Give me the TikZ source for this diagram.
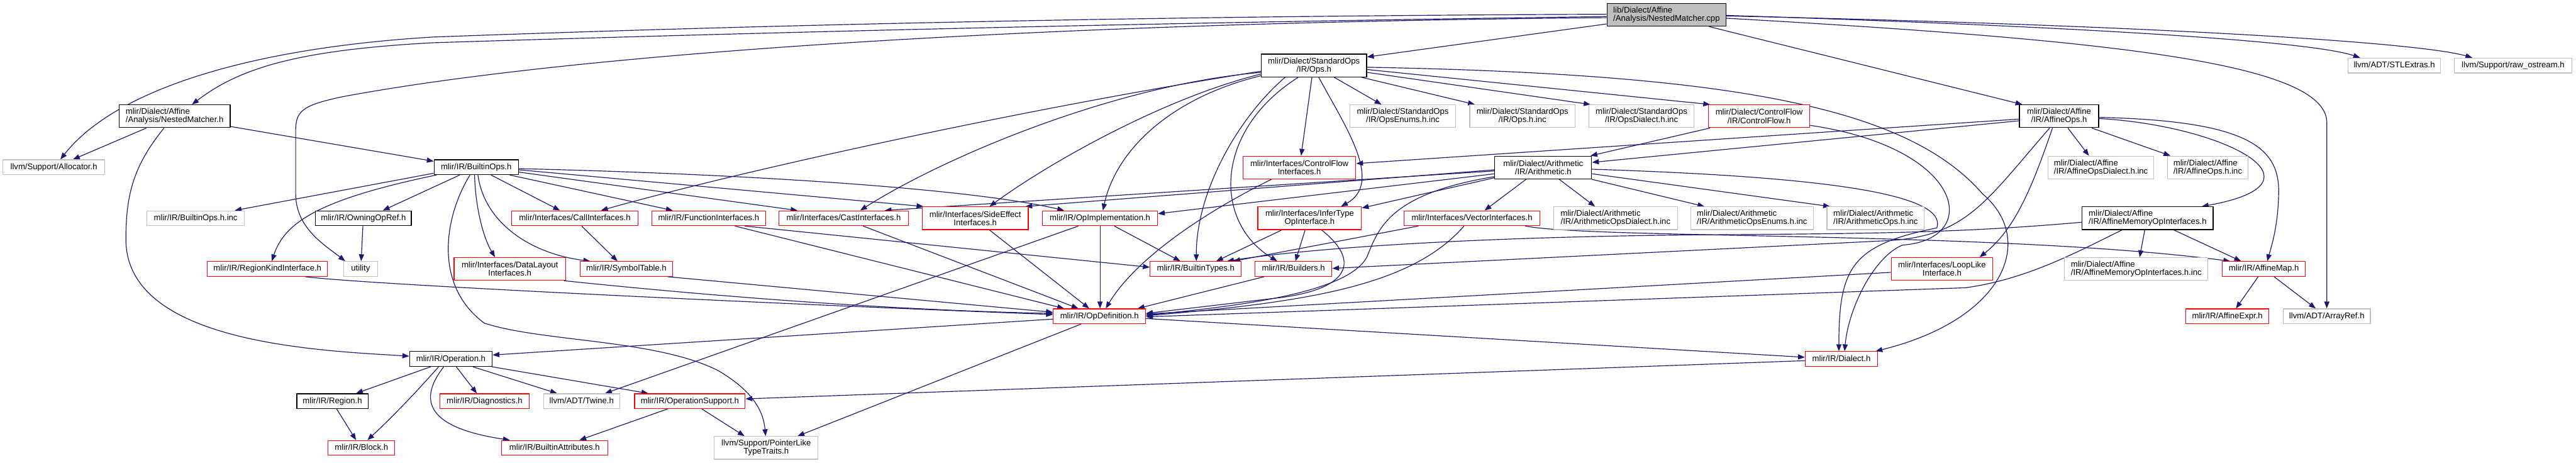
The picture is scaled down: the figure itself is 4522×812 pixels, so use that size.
\documentclass[tikz,border=0pt]{standalone}
\usepackage{fontspec}
\setmainfont{Liberation Sans}
\usetikzlibrary{arrows.meta}
\definecolor{edgecol}{HTML}{191970}
\definecolor{redb}{HTML}{FF0000}
\definecolor{grayb}{HTML}{BFBFBF}
\definecolor{mainfill}{HTML}{BFBFBF}
\pgfdeclarelayer{bg}
\pgfsetlayers{bg,main}
\newcommand\TwoL[2]{\setbox0=\hbox{#1}\setbox2=\hbox{#2}%
  \dimen0=\wd0 \ifdim\wd2>\dimen0 \dimen0=\wd2 \fi
  \vbox{\hbox to\dimen0{\box0\hfil}\hbox to\dimen0{\hfil\box2\hfil}}}
\tikzset{
  nb/.style={draw, rectangle, inner sep=0pt, line width=1.3pt, fill=white,
             font=\fontsize{14.5pt}{14.5pt}\selectfont},
  one/.style={minimum height=26pt, text height=10.5pt, text depth=3pt},
  tall/.style={minimum height=40pt},
  blk/.style={nb, draw=black},
  redn/.style={nb, draw=redb},
  grayn/.style={nb, draw=grayb},
  mainn/.style={nb, draw=black, fill=mainfill},
  conn/.style={draw=edgecol, line width=1.3pt, -{Triangle[length=12pt,width=9pt]}}
}
\begin{document}
\begin{tikzpicture}[x=1pt,y=-1pt]
\begin{pgfonlayer}{bg}
\fill[white] (0,0) rectangle (4522,812);
\end{pgfonlayer}
\useasboundingbox (0,0) rectangle (4522,812);
% nodes
\node[mainn,tall,minimum width=209pt] (main) at (2925.5,26) {\TwoL{lib/Dialect/Affine}{/Analysis/NestedMatcher.cpp}};
\node[blk,tall,minimum width=195pt] (nmh) at (306.5,204) {\TwoL{mlir/Dialect/Affine}{/Analysis/NestedMatcher.h}};
\node[grayn,one,minimum width=179pt] (alloc) at (94.5,293.5) {llvm/Support/Allocator.h};
\node[blk,one,minimum width=148pt] (bops) at (836,293.5) {mlir/IR/BuiltinOps.h};
\node[grayn,one,minimum width=171pt] (bopsinc) at (343.5,383) {mlir/IR/BuiltinOps.h.inc};
\node[blk,one,minimum width=168pt] (owning) at (638,383) {mlir/IR/OwningOpRef.h};
\node[redn,one,minimum width=211pt] (regionkind) at (469.5,472) {mlir/IR/RegionKindInterface.h};
\node[grayn,one,minimum width=60pt] (utility) at (633,472) {utility};
\node[redn,one,minimum width=222pt] (calli) at (1009,383) {mlir/Interfaces/CallInterfaces.h};
\node[redn,one,minimum width=200pt] (funci) at (1244,383) {mlir/IR/FunctionInterfaces.h};
\node[redn,one,minimum width=228pt] (casti) at (1481,383) {mlir/Interfaces/CastInterfaces.h};
\node[redn,tall,minimum width=196pt] (datalayout) at (895,472) {\TwoL{mlir/Interfaces/DataLayout}{Interfaces.h}};
\node[redn,one,minimum width=163pt] (symtab) at (1099.5,472) {mlir/IR/SymbolTable.h};
\node[blk,one,minimum width=145pt] (operation) at (791.5,630) {mlir/IR/Operation.h};
\node[blk,one,minimum width=125pt] (region) at (583.5,704) {mlir/IR/Region.h};
\node[redn,one,minimum width=117pt] (block) at (634.5,786) {mlir/IR/Block.h};
\node[redn,one,minimum width=157pt] (diag) at (850.5,704) {mlir/IR/Diagnostics.h};
\node[grayn,one,minimum width=134pt] (twine) at (1021,704) {llvm/ADT/Twine.h};
\node[redn,one,minimum width=194pt] (opsupport) at (1211,704) {mlir/IR/OperationSupport.h};
\node[redn,one,minimum width=187pt] (battr) at (973.5,786) {mlir/IR/BuiltinAttributes.h};
\node[grayn,tall,minimum width=182pt] (ptrlike) at (1345,786) {\TwoL{llvm/Support/PointerLike}{TypeTraits.h}};
\node[redn,tall,minimum width=186pt] (sideeff) at (1712,383) {\TwoL{mlir/Interfaces/SideEffect}{Interfaces.h}};
\node[redn,one,minimum width=202pt] (opimpl) at (1931,383) {mlir/IR/OpImplementation.h};
\node[blk,tall,minimum width=185pt] (stdops) at (2306.5,115) {\TwoL{mlir/Dialect/StandardOps}{/IR/Ops.h}};
\node[redn,tall,minimum width=198pt] (cfi) at (2281,294) {\TwoL{mlir/Interfaces/ControlFlow}{Interfaces.h}};
\node[redn,tall,minimum width=182pt] (infer) at (2299,383) {\TwoL{mlir/Interfaces/InferType}{OpInterface.h}};
\node[redn,one,minimum width=162pt] (opdef) at (1930,555) {mlir/IR/OpDefinition.h};
\node[redn,one,minimum width=160pt] (btypes) at (2099,472) {mlir/IR/BuiltinTypes.h};
\node[redn,one,minimum width=135pt] (builders) at (2270.5,472) {mlir/IR/Builders.h};
\node[grayn,tall,minimum width=185pt] (opsenums) at (2462.5,204) {\TwoL{mlir/Dialect/StandardOps}{/IR/OpsEnums.h.inc}};
\node[grayn,tall,minimum width=185pt] (opsinc) at (2672.5,204) {\TwoL{mlir/Dialect/StandardOps}{/IR/Ops.h.inc}};
\node[grayn,tall,minimum width=185pt] (opsdialect) at (2881.5,204) {\TwoL{mlir/Dialect/StandardOps}{/IR/OpsDialect.h.inc}};
\node[redn,tall,minimum width=178pt] (cf) at (3088,204) {\TwoL{mlir/Dialect/ControlFlow}{/IR/ControlFlow.h}};
\node[blk,tall,minimum width=170pt] (arith) at (2709,294) {\TwoL{mlir/Dialect/Arithmetic}{/IR/Arithmetic.h}};
\node[redn,one,minimum width=238pt] (vector) at (2584,383) {mlir/Interfaces/VectorInterfaces.h};
\node[grayn,tall,minimum width=218pt] (arithdialect) at (2836,383) {\TwoL{mlir/Dialect/Arithmetic}{/IR/ArithmeticOpsDialect.h.inc}};
\node[grayn,tall,minimum width=215pt] (arithenums) at (3075.5,383) {\TwoL{mlir/Dialect/Arithmetic}{/IR/ArithmeticOpsEnums.h.inc}};
\node[grayn,tall,minimum width=171pt] (arithops) at (3292.5,383) {\TwoL{mlir/Dialect/Arithmetic}{/IR/ArithmeticOps.h.inc}};
\node[blk,tall,minimum width=139pt] (affops) at (3614.5,204) {\TwoL{mlir/Dialect/Affine}{/IR/AffineOps.h}};
\node[grayn,tall,minimum width=186pt] (affdialect) at (3688,294) {\TwoL{mlir/Dialect/Affine}{/IR/AffineOpsDialect.h.inc}};
\node[blk,tall,minimum width=230pt] (affmemop) at (3770,383) {\TwoL{mlir/Dialect/Affine}{/IR/AffineMemoryOpInterfaces.h}};
\node[redn,tall,minimum width=178pt] (looplike) at (3409,472) {\TwoL{mlir/Interfaces/LoopLike}{Interface.h}};
\node[grayn,tall,minimum width=252pt] (affmemopinc) at (3750,472) {\TwoL{mlir/Dialect/Affine}{/IR/AffineMemoryOpInterfaces.h.inc}};
\node[redn,one,minimum width=127pt] (dialect) at (3232.5,630) {mlir/IR/Dialect.h};
\node[grayn,tall,minimum width=141pt] (affopsinc) at (3875.5,294) {\TwoL{mlir/Dialect/Affine}{/IR/AffineOps.h.inc}};
\node[grayn,one,minimum width=162pt] (stl) at (4203,115) {llvm/ADT/STLExtras.h};
\node[grayn,one,minimum width=207pt] (rawos) at (4411.5,115) {llvm/Support/raw\_ostream.h};
\node[redn,one,minimum width=146pt] (affmap) at (3974,472) {mlir/IR/AffineMap.h};
\node[redn,one,minimum width=146pt] (affexpr) at (3910,555) {mlir/IR/AffineExpr.h};
\node[grayn,one,minimum width=153pt] (arrayref) at (4084.5,555) {llvm/ADT/ArrayRef.h};
% edges
\begin{pgfonlayer}{bg}
% main
\draw[conn] ([yshift=1pt]main.west) .. controls (2000,28) and (1300,45) .. (760,65) .. controls (430,85) and (200,160) .. ([xshift=11.5pt]alloc.north);
\draw[conn] ([yshift=-3pt]main.west) .. controls (2000,40) and (1300,58) .. (760,75) .. controls (520,88) and (420,120) .. ([xshift=30.5pt]nmh.north);
\draw[conn] ([yshift=-5pt]main.west) .. controls (1800,40) and (1000,95) .. (600,170) .. controls (530,185) and (519,195) .. (519,230) -- (519,340) .. controls (519,400) and (570,430) .. ([xshift=-27pt]utility.north);
\draw[conn] ([yshift=-16pt]main.west) -- ([yshift=15pt]stdops.east);
\draw[conn] ([xshift=74.5pt]main.south) -- ([xshift=-64.5pt]affops.north);
\draw[conn] ([yshift=-1pt]main.east) .. controls (3600,45) and (4050,70) .. ([xshift=-60pt]stl.north);
\draw[conn] ([yshift=-2pt]main.east) .. controls (3800,45) and (4250,75) .. ([xshift=-71.5pt]rawos.north);
\draw[conn] ([yshift=-6pt]main.east) .. controls (3700,70) and (4084.5,110) .. (4084.5,215) -- (arrayref.north);
% NestedMatcher.h
\draw[conn] ([xshift=-49.5pt]nmh.south) -- ([xshift=33.5pt]alloc.north);
\draw[conn] ([xshift=-18.5pt]nmh.south) .. controls (235,290) and (221,340) .. (221,420) .. controls (221,600) and (550,615) .. ([yshift=5pt]operation.west);
\draw[conn] ([yshift=-18pt]nmh.east) -- ([yshift=10.5pt]bops.west);
% BuiltinOps.h
\draw[conn] ([yshift=-10.5pt]bops.west) -- ([xshift=68.5pt]bopsinc.north);
\draw[conn] ([xshift=-70pt]bops.south) .. controls (560,350) and (500,390) .. ([xshift=7.5pt]regionkind.north);
\draw[conn] ([xshift=-29pt]bops.south) -- ([xshift=34pt]owning.north);
\draw[conn] ([xshift=-11pt]bops.south) .. controls (780,380) and (760,500) .. (850,567) .. controls (950,600) and (1150,595) .. (1260,650) .. controls (1320,685) and (1340,720) .. ([xshift=-1pt]ptrlike.north);
\draw[conn] ([xshift=-3pt]bops.south) .. controls (835,370) and (850,420) .. ([xshift=-26pt]datalayout.north);
\draw[conn] ([xshift=3pt]bops.south) .. controls (850,390) and (930,445) .. ([xshift=-63.5pt]symtab.north);
\draw[conn] ([xshift=26pt]bops.south) -- ([xshift=-26pt]calli.north);
\draw[conn] ([xshift=59pt]bops.south) -- ([xshift=-63pt]funci.north);
\draw[conn] ([yshift=-8.5pt]bops.east) -- ([xshift=-81pt]casti.north);
\draw[conn] ([yshift=-4.5pt]bops.east) -- ([xshift=-91pt]sideeff.north);
\draw[conn] ([yshift=-2.5pt]bops.east) .. controls (1300,305) and (1700,330) .. ([xshift=-63pt]opimpl.north);
% misc
\draw[conn] ([xshift=-1pt]owning.south) -- ([xshift=1pt]utility.north);
\draw[conn] ([xshift=66.5pt]regionkind.south) .. controls (650,500) and (1400,535) .. ([yshift=3pt]opdef.west);
\draw[conn] ([xshift=95pt]datalayout.south) .. controls (1300,525) and (1600,545) .. ([yshift=5pt]opdef.west);
\draw[conn] ([xshift=72.5pt]symtab.south) -- ([yshift=7pt]opdef.west);
\draw[conn] ([xshift=12pt]calli.south) -- ([xshift=-15.5pt]symtab.north);
\draw[conn] ([xshift=63pt]funci.south) -- ([yshift=3pt]btypes.west);
\draw[conn] ([xshift=46pt]funci.south) -- ([xshift=-62pt]opdef.north);
\draw[conn] ([xshift=34pt]casti.south) -- ([xshift=-37pt]opdef.north);
\draw[conn] ([xshift=25pt]sideeff.south) -- ([xshift=-18pt]opdef.north);
\draw[conn] (opimpl.south) -- (opimpl.south |- opdef.north);
\draw[conn] ([xshift=25pt]opimpl.south) -- ([xshift=-27pt]btypes.north);
\draw[conn] ([xshift=-38pt]opimpl.south) -- ([xshift=41pt]twine.north);
% StandardOps Ops.h
\draw[conn] ([yshift=-10pt]stdops.west) .. controls (1800,190) and (1300,300) .. ([xshift=46pt]calli.north);
\draw[conn] ([yshift=-12pt]stdops.west) .. controls (1950,150) and (1650,280) .. ([xshift=29pt]casti.north);
\draw[conn] ([yshift=-15pt]stdops.west) .. controls (2050,170) and (1850,280) .. ([xshift=25pt]sideeff.north);
\draw[conn] ([yshift=-18pt]stdops.west) .. controls (2060,170) and (1960,260) .. ([xshift=5pt]opimpl.north);
\draw[conn] ([xshift=-50.5pt]stdops.south) .. controls (2180,200) and (2100,330) .. ([xshift=1pt]btypes.north);
\draw[conn] ([xshift=-27.5pt]stdops.south) .. controls (2130,230) and (2130,390) .. ([xshift=-28.5pt]builders.north);
\draw[conn] ([xshift=-3.5pt]stdops.south) -- ([xshift=3pt]cfi.north);
\draw[conn] ([xshift=8.5pt]stdops.south) .. controls (2360,220) and (2430,320) .. ([xshift=55pt]infer.north);
\draw[conn] ([xshift=35.5pt]stdops.south) -- ([xshift=-37.5pt]opsenums.north);
\draw[conn] ([xshift=83.5pt]stdops.south) -- ([xshift=-83.5pt]opsinc.north);
\draw[conn] ([yshift=-12pt]stdops.east) -- ([xshift=-89.5pt]opsdialect.north);
\draw[conn] ([yshift=-7pt]stdops.east) -- ([xshift=-86pt]cf.north);
\draw[conn] ([yshift=-3pt]stdops.east) .. controls (3050,130) and (3350,190) .. (3480,340) .. controls (3575,420) and (3520,560) .. ([xshift=60pt]dialect.north);
% ControlFlowInterfaces, InferType, Builders
\draw[conn] ([xshift=-49pt]cfi.south) .. controls (2100,380) and (1990,460) .. ([xshift=11pt]opdef.north);
\draw[conn] ([xshift=-49pt]infer.south) -- ([xshift=36pt]btypes.north);
\draw[conn] ([xshift=-8pt]infer.south) -- ([xshift=3.5pt]builders.north);
\draw[conn] ([xshift=21pt]infer.south) .. controls (2385,455) and (2375,505) .. (2250,522) -- ([yshift=5pt]opdef.east);
\draw[conn] ([xshift=-51.5pt]builders.south) -- ([xshift=67pt]opdef.north);
% ControlFlow.h
\draw[conn] ([xshift=-86pt]cf.south) -- ([xshift=83pt]arith.north);
\draw[conn] ([yshift=-16pt]cf.east) .. controls (3450,260) and (3480,420) .. (3340,430) .. controls (3290,450) and (3245,540) .. ([xshift=5.5pt]dialect.north);
% Arithmetic.h
\draw[conn] ([yshift=-6pt]arith.west) -- ([xshift=72pt]casti.north);
\draw[conn] ([yshift=-4pt]arith.west) -- ([xshift=88pt]sideeff.north);
\draw[conn] ([yshift=-11pt]arith.west) -- ([yshift=8pt]opimpl.east);
\draw[conn] ([yshift=-18pt]arith.west) -- ([yshift=18pt]infer.east);
\draw[conn] ([xshift=-30pt]arith.south) -- ([xshift=22pt]vector.north);
\draw[conn] ([xshift=28pt]arith.south) -- ([xshift=-36pt]arithdialect.north);
\draw[conn] ([xshift=85pt]arith.south) -- ([xshift=-83.5pt]arithenums.north);
\draw[conn] ([yshift=-11pt]arith.east) -- ([xshift=-80pt]arithops.north);
\draw[conn] ([yshift=-3pt]arith.east) .. controls (3200,310) and (3420,340) .. (3400,400) .. controls (3250,430) and (3228,470) .. ([xshift=-4.5pt]dialect.north);
\draw[conn] ([yshift=-16pt]arith.west) .. controls (2440,340) and (2420,400) .. (2400,450) .. controls (2370,510) and (2200,535) .. ([yshift=2pt]opdef.east);
% VectorInterfaces.h
\draw[conn] ([xshift=-94pt]vector.south) -- ([xshift=66pt]btypes.north);
\draw[conn] ([xshift=-14pt]vector.south) .. controls (2480,500) and (2300,530) .. ([yshift=1pt]opdef.east);
\draw[conn] ([xshift=93pt]vector.south) .. controls (2800,420) and (3500,405) .. ([xshift=-59pt]affmap.north);
% AffineOps.h
\draw[conn] ([yshift=-5pt]affops.west) -- ([yshift=7pt]cfi.east);
\draw[conn] ([yshift=-8pt]affops.west) -- ([yshift=9pt]arith.east);
\draw[conn] ([xshift=15.5pt]affops.south) -- ([xshift=-21pt]affdialect.north);
\draw[conn] ([xshift=57.5pt]affops.south) -- ([xshift=-65.5pt]affopsinc.north);
\draw[conn] ([yshift=-4pt]affops.east) .. controls (3900,220) and (4100,320) .. ([xshift=95pt]affmemop.north);
\draw[conn] ([yshift=-2pt]affops.east) .. controls (3950,212) and (4002,260) .. (4000,340) .. controls (3999,400) and (3985,440) .. ([xshift=6pt]affmap.north);
\draw[conn] ([xshift=-11.5pt]affops.south) .. controls (3570,320) and (3540,400) .. ([xshift=66pt]looplike.north);
\draw[conn] ([xshift=-16.5pt]affops.south) .. controls (3480,360) and (3450,418) .. (3300,423) -- ([yshift=1pt]builders.east);
% AffineMemoryOpInterfaces.h
\draw[conn] ([xshift=-5pt]affmemop.south) -- ([xshift=6pt]affmemopinc.north);
\draw[conn] ([xshift=46pt]affmemop.south) -- ([xshift=-40pt]affmap.north);
\draw[conn] ([xshift=-45pt]affmemop.south) .. controls (3650,440) and (3560,490) .. (3450,505) -- ([yshift=-1pt]opdef.east);
\draw[conn] ([yshift=-7pt]affmemop.west) .. controls (3450,408) and (3300,410) .. (3000,412) .. controls (2600,415) and (2300,435) .. ([xshift=55pt]btypes.north);
% LoopLike, OpDefinition, Dialect
\draw[conn] ([yshift=-6pt]looplike.west) -- ([yshift=4pt]opdef.east);
\draw[conn] ([yshift=-5pt]opdef.west) -- ([yshift=7pt]operation.east);
\draw[conn] ([yshift=-4pt]opdef.east) -- ([yshift=3pt]dialect.west);
\draw[conn] ([xshift=-32pt]opdef.south) -- ([xshift=55pt]ptrlike.north);
\draw[conn] ([yshift=-3pt]dialect.west) -- ([yshift=4pt]opsupport.east);
% Operation.h
\draw[conn] ([xshift=-35.5pt]operation.south) -- ([xshift=41.5pt]region.north);
\draw[conn] ([xshift=-21.5pt]operation.south) .. controls (720,700) and (680,740) .. ([xshift=10.5pt]block.north);
\draw[conn] ([xshift=-12.5pt]operation.south) .. controls (735,700) and (745,750) .. ([xshift=-78.5pt]battr.north);
\draw[conn] ([xshift=9.5pt]operation.south) -- ([xshift=-13.5pt]diag.north);
\draw[conn] ([xshift=38.5pt]operation.south) -- ([xshift=-43pt]twine.north);
\draw[conn] ([xshift=72pt]operation.south) -- ([xshift=-73pt]opsupport.north);
\draw[conn] ([xshift=7.5pt]region.south) -- ([xshift=-9.5pt]block.north);
\draw[conn] ([xshift=-39pt]opsupport.south) -- ([xshift=43.5pt]battr.north);
\draw[conn] ([xshift=21pt]opsupport.south) -- ([xshift=-38pt]ptrlike.north);
% AffineMap.h
\draw[conn] ([xshift=-10pt]affmap.south) -- ([xshift=15pt]affexpr.north);
\draw[conn] ([xshift=18pt]affmap.south) -- ([xshift=-19.5pt]arrayref.north);
\end{pgfonlayer}
\end{tikzpicture}
\end{document}
